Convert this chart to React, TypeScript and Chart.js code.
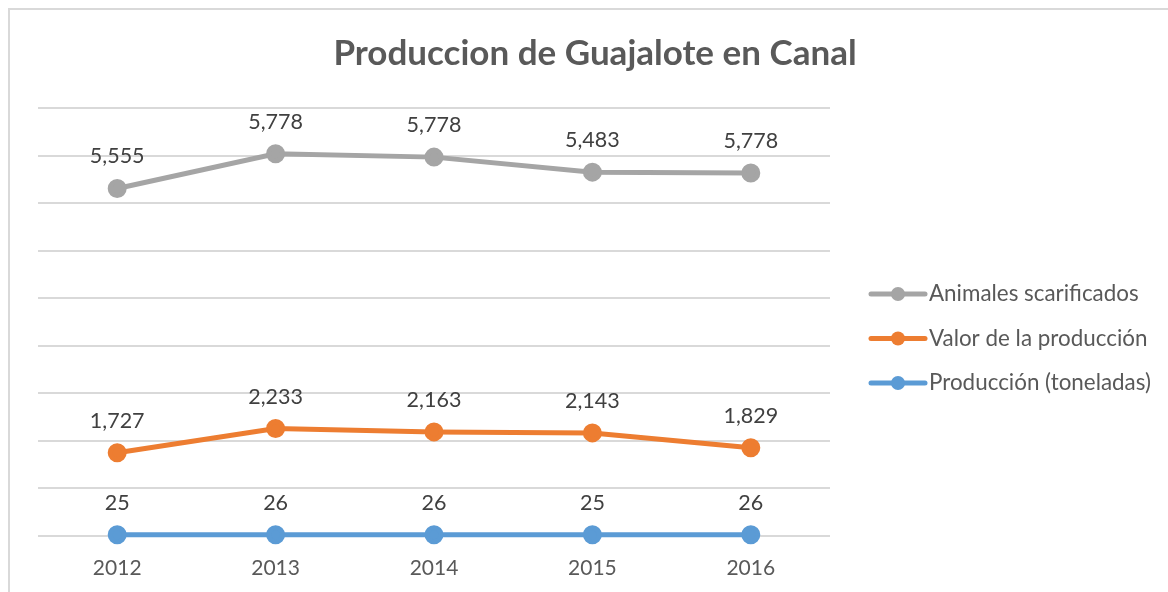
import React, { useEffect, useRef } from "react";
import { Chart, registerables } from "chart.js";

Chart.register(...registerables);

const years = ["2012", "2013", "2014", "2015", "2016"];
const produccion = [25, 26, 26, 25, 26];
const valor = [1727, 2233, 2163, 2143, 1829];
const animales = [5555, 5778, 5778, 5483, 5778];
const seriesNames = ["Producción (toneladas)", "Valor de la producción", "Animales scarificados"];
const seriesColors = ["#5B9BD5", "#ED7D31", "#A5A5A5"];
const chartTitle = "Produccion de Guajalote en Canal";
const yMax = 9000;
const yStep = 1000;

const FONT = "Lato, 'Open Sans', sans-serif";

const titlePlugin = {
  id: "customTitle",
  afterDraw(chart: any) {
    const ctx = chart.ctx;
    ctx.save();
    ctx.font = `bold 35px ${FONT}`;
    ctx.fillStyle = "#595959";
    ctx.textAlign = "center";
    ctx.textBaseline = "middle";
    ctx.fillText(chartTitle, 595, 54);
    ctx.restore();
  },
};

const dataLabelPlugin = {
  id: "dataLabels",
  afterDatasetsDraw(chart: any) {
    const ctx = chart.ctx;
    ctx.save();
    ctx.font = `21.5px ${FONT}`;
    ctx.fillStyle = "#404040";
    ctx.textAlign = "center";
    ctx.textBaseline = "middle";
    chart.data.datasets.forEach((ds: any, i: number) => {
      const meta = chart.getDatasetMeta(i);
      meta.data.forEach((pt: any, j: number) => {
        ctx.fillText(Number(ds.data[j]).toLocaleString("en-US"), pt.x, pt.y - 32);
      });
    });
    ctx.restore();
  },
};

const legendPlugin = {
  id: "customLegend",
  afterDraw(chart: any) {
    const ctx = chart.ctx;
    const dsList = chart.data.datasets;
    const order = dsList.map((_: any, i: number) => i).reverse();
    ctx.save();
    ctx.font = `22.4px ${FONT}`;
    ctx.textAlign = "left";
    ctx.textBaseline = "middle";
    order.forEach((idx: number, k: number) => {
      const ds = dsList[idx];
      const y = 294 + k * 44.5;
      ctx.strokeStyle = ds.borderColor;
      ctx.lineWidth = 5;
      ctx.lineCap = "round";
      ctx.beginPath();
      ctx.moveTo(871, y);
      ctx.lineTo(925, y);
      ctx.stroke();
      ctx.fillStyle = ds.borderColor;
      ctx.beginPath();
      ctx.arc(898, y, 7, 0, Math.PI * 2);
      ctx.fill();
      ctx.fillStyle = "#595959";
      ctx.fillText(ds.label, 929, y);
    });
    ctx.restore();
  },
};

export default function App() {
  const ref = useRef<HTMLCanvasElement | null>(null);

  useEffect(() => {
    if (!ref.current) return;
    const series = [produccion, valor, animales];
    const chart = new Chart(ref.current, {
      type: "line",
      data: {
        labels: years,
        datasets: series.map((d, i) => ({
          label: seriesNames[i],
          data: d,
          borderColor: seriesColors[i],
          backgroundColor: seriesColors[i],
          pointBackgroundColor: seriesColors[i],
          pointBorderColor: seriesColors[i],
          borderWidth: 5,
          pointRadius: 7,
          pointHoverRadius: 7,
          fill: false,
          tension: 0,
          clip: false,
        })),
      },
      options: {
        responsive: false,
        animation: false,
        devicePixelRatio: 1,
        layout: { padding: { left: 38, right: 338, top: 108, bottom: 0 } },
        plugins: {
          legend: { display: false },
          title: { display: false },
          tooltip: { enabled: false },
        },
        scales: {
          x: {
            type: "category",
            offset: true,
            grid: { display: false },
            border: { display: false },
            ticks: {
              color: "#595959",
              font: { family: FONT, size: 21 },
              padding: 12,
              maxRotation: 0,
            },
            afterFit: (s: any) => {
              s.height = 56;
            },
          },
          y: {
            stacked: true,
            min: 0,
            max: yMax,
            ticks: { display: false, stepSize: yStep },
            grid: { color: "#D9D9D9", lineWidth: 2, drawTicks: false },
            border: { display: false },
            afterFit: (s: any) => {
              s.width = 0;
            },
          },
        },
      },
      plugins: [titlePlugin, dataLabelPlugin, legendPlugin],
    });
    return () => chart.destroy();
  }, []);

  return (
    <div style={{ position: "fixed", left: 0, top: 0, width: 1168, height: 592, background: "#fff" }}>
      <div
        style={{
          position: "absolute",
          left: 8,
          top: 8,
          right: 0,
          bottom: 0,
          borderLeft: "2px solid #D9D9D9",
          borderTop: "2px solid #D9D9D9",
        }}
      />
      <canvas
        ref={ref}
        width={1168}
        height={592}
        style={{ position: "absolute", left: 0, top: 0, width: 1168, height: 592 }}
      />
    </div>
  );
}
